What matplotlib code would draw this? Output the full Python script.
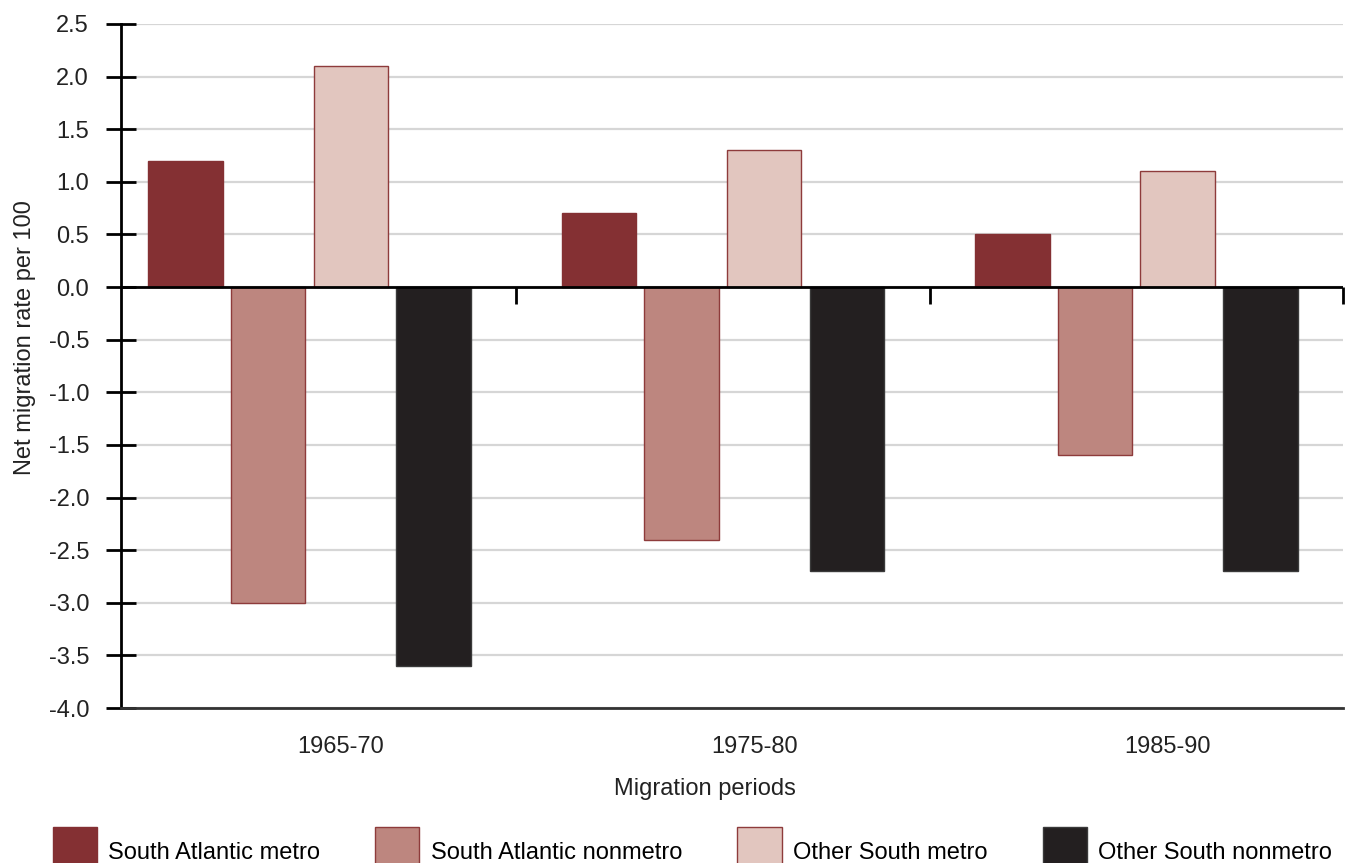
import matplotlib
matplotlib.use('Agg')
import matplotlib.pyplot as plt
import numpy as np

periods = ["1965-70", "1975-80", "1985-90"]
series_names = ["South Atlantic metro", "South Atlantic nonmetro",
                "Other South metro", "Other South nonmetro"]
sa_metro = [1.2, 0.7, 0.5]
sa_nonmetro = [-3.0, -2.4, -1.6]
os_metro = [2.1, 1.3, 1.1]
os_nonmetro = [-3.6, -2.7, -2.7]
y_ticks = [2.5, 2.0, 1.5, 1.0, 0.5, 0.0, -0.5, -1.0, -1.5, -2.0, -2.5, -3.0, -3.5, -4.0]

plt.rcParams['font.family'] = ['Liberation Sans', 'DejaVu Sans']

fills = ['#843033', '#bd867f', '#e2c6bf', '#231f20']
edges = ['#843033', '#8e3b3b', '#8e3b3b', '#3a3a3a']
FS = 17

fig = plt.figure(figsize=(13.48, 8.63), dpi=100)
ax = fig.add_axes([0.0898, 0.1796, 0.9065, 0.7926])

x = np.arange(len(periods))
width = 0.18
offsets = [-0.3, -0.1, 0.1, 0.3]
handles = []
for vals, name, fc, ec, off in zip([sa_metro, sa_nonmetro, os_metro, os_nonmetro],
                                   series_names, fills, edges, offsets):
    h = ax.bar(x + off, vals, width, color=fc, edgecolor=ec, linewidth=1.0,
               label=name, zorder=3)
    handles.append(h)

ax.set_xlim(-0.456, 2.5)
ax.set_ylim(-4.0, 2.5)
ax.set_yticks(y_ticks)
ax.set_yticklabels([f"{v:.1f}" for v in y_ticks], fontsize=FS, color='#222222')
ax.yaxis.grid(True, color='#d6d6d6', linewidth=1.6, zorder=0)
ax.set_axisbelow(True)

ax.tick_params(axis='y', direction='inout', length=22, width=2, pad=12, color='black')

# category labels, slightly right of group centres
ax.set_xticks(x + 0.076)
ax.set_xticklabels(periods, fontsize=FS, color='#222222')
ax.tick_params(axis='x', length=0, pad=20)

# zero line with boundary ticks
ax.axhline(0, color='black', linewidth=2, zorder=4)
bounds = [0.5, 1.5, 2.5]
ax.vlines(bounds, -0.16, 0, color='black', linewidth=2, zorder=4, clip_on=False)

for s in ['top', 'right']:
    ax.spines[s].set_visible(False)
ax.spines['left'].set_linewidth(2)
ax.spines['left'].set_color('black')
ax.spines['bottom'].set_linewidth(2)
ax.spines['bottom'].set_color('#333333')

ax.set_ylabel('Net migration rate per 100', fontsize=FS, color='#222222')
ax.yaxis.set_label_coords(-0.070, 0.541)
ax.set_xlabel('Migration periods', fontsize=FS, color='#222222')
ax.xaxis.set_label_coords(0.478, -0.102)

fig.legend(handles=handles, labels=series_names, loc='center left',
           bbox_to_anchor=(0.039, 0.013), ncol=4, frameon=False, fontsize=FS,
           handlelength=1.87, handleheight=2.9, handletextpad=0.47,
           columnspacing=2.35, borderpad=0, borderaxespad=0)

fig.savefig('out.png', dpi=100)
